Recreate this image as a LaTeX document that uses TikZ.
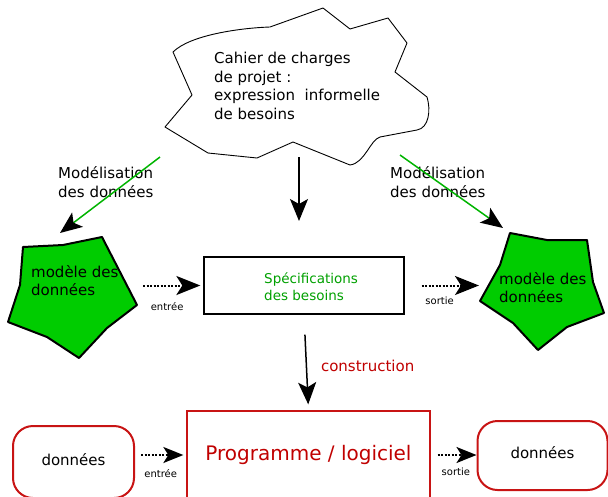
\documentclass[tikz,border=0pt]{standalone}
\usepackage{fontspec}
\setmainfont{DejaVu Sans}
\usetikzlibrary{arrows.meta,positioning}
\definecolor{modelGreen}{RGB}{0,204,0}
\definecolor{lineGreen}{RGB}{0,180,0}
\definecolor{specGreen}{RGB}{0,160,0}
\definecolor{progRed}{RGB}{192,0,0}
\definecolor{boxRed}{RGB}{200,20,20}
\tikzset{txt/.style={inner sep=0pt, align=left, font=\fontsize{15}{18.5}\selectfont}}
\tikzset{smalltxt/.style={inner sep=0pt, font=\fontsize{10}{12}\selectfont}}
\tikzset{model/.style={draw=black, fill=modelGreen, line width=2pt, line join=round}}
\tikzset{databox/.style={draw=boxRed, line width=2pt, rounded corners=20pt, minimum width=121pt, minimum height=72pt, text depth=6pt, font=\fontsize{15}{18}\selectfont}}
\tikzset{specbox/.style={draw=black, line width=1.3pt, minimum width=200pt, minimum height=57pt}}
\tikzset{progbox/.style={draw=boxRed, line width=1.3pt, minimum width=243pt, minimum height=88pt, text=progRed, font=\fontsize{20}{24}\selectfont}}
\tikzstyle{arrow} = [-{Stealth[length=22pt,width=18pt,inset=5pt,black]}, line width=1.5pt]
\tikzstyle{dotarrow} = [-{Stealth[length=24pt,width=19pt,inset=6pt,black]}, line width=2pt, dash pattern=on 2pt off 1.5pt]
\tikzstyle{smalldotarrow} = [dotarrow, -{Stealth[length=20pt,width=16pt,inset=5pt,black]}]

\begin{document}
\begin{tikzpicture}[x=1pt, y=-1pt]
	\useasboundingbox (0,0) rectangle (608,496);

	% Cloud
	\draw[line width=0.9pt, line join=round] (173,52) .. controls (190,35) and (240,28) .. (270,27) -- (323,8) -- (350,29) -- (388,18) -- (407,43) -- (395,72) -- (427,97)
		.. controls (431,110) and (429,128) .. (417,130) -- (380,137) .. controls (370,140) and (365,163) .. (350,165)
		-- (293,142) -- (257,158) -- (208,153) -- (165,127) -- (192,95) -- cycle;
	\node (cahier) [txt, anchor=west] at (214,86) {Cahier de charges\\de projet :\\expression~~informelle\\de besoins};

	% Models
	\draw[model] (23,247) -- (63,245) -- (102,237) -- (137,305) -- (107,328) -- (79,358) -- (47,337) -- (8,322) -- (20,285) -- cycle;
	\node (modelin) [txt, anchor=west, font=\fontsize{15}{18}\selectfont] at (31,281) {modèle des\\données};
	\draw[model] (510,233) -- (547,240) -- (587,240) -- (593,282) -- (604,313) -- (567,327) -- (538,350) -- (513,323) -- (480,301) -- (500,265) -- cycle;
	\node (modelout) [txt, anchor=west, font=\fontsize{15}{18}\selectfont] at (499,288) {modèle des\\données};

	\node (modlabL) [txt, anchor=west] at (58,182) {Modélisation\\des données};
	\node (modlabR) [txt, anchor=west] at (390,182) {Modélisation\\des données};

	% Boxes
	\node (spec) [specbox] at (304,285.5) {};
	\node (spectxt) [txt, anchor=west, text=specGreen, font=\fontsize{13.5}{17}\selectfont] at (264,286.5) {Spécifications\\des besoins};
	\node (prog) [progbox] at (308.5,455) {Programme / logiciel};
	\node (datain) [databox] at (73.5,462) {données};
	\node (dataout) [databox, minimum width=130pt, minimum height=69pt] at (542.5,455.5) {données};

	% Anchors
	\coordinate (cloudL) at (160,157);
	\coordinate (cloudB) at (299,157);
	\coordinate (cloudR) at (400,155);
	\coordinate (modelinTop) at (60,233);
	\coordinate (specTop) at (299,221);
	\coordinate (modeloutTop) at (503,228);
	\coordinate (modelinOut) at (143,285.5);
	\coordinate (modeloutIn) at (479,285.5);

	% Connectors
	\draw [arrow, lineGreen] (cloudL) -- (modelinTop);
	\draw [arrow] (cloudB) -- (specTop);
	\draw [arrow, lineGreen] (cloudR) -- (modeloutTop);

	\draw [dotarrow, shorten >=3pt] (modelinOut) -- node[smalltxt, pos=0.4, yshift=-21pt] {entrée} (spec.west);
	\draw [dotarrow, shorten <=17pt] (spec.east) -- node[smalltxt, pos=0.47, yshift=-15pt] {sortie} (modeloutIn);

	\draw [arrow, shorten <=20pt, shorten >=6pt] (spec.south) -- node[txt, anchor=west, xshift=14pt, yshift=-3.5pt, text=progRed] {construction} (prog.north);

	\draw [smalldotarrow, shorten <=6pt, shorten >=3pt] (prog.west -| datain.east) -- node[smalltxt, yshift=-19pt] {entrée} (prog.west);
	\draw [smalldotarrow, shorten <=7pt] (prog.east) -- node[smalltxt, pos=0.55, yshift=-17pt] {sortie} (prog.east -| dataout.west);
\end{tikzpicture}
\end{document}
